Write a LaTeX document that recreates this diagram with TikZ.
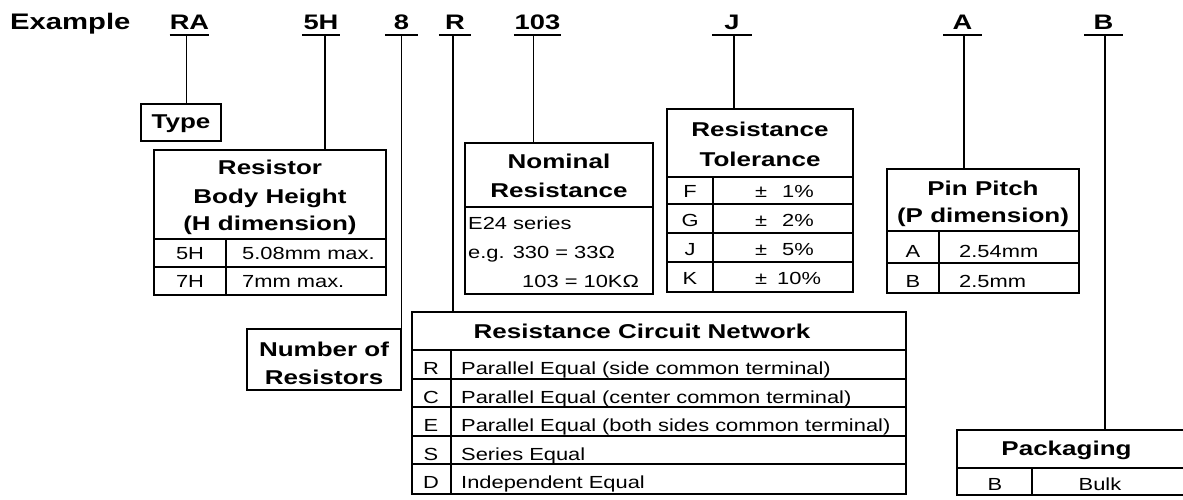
\documentclass[tikz,border=0pt]{standalone}
\usepackage{fontspec}
\setmainfont{Liberation Sans}[FakeStretch=1.25]
\newfontfamily\hbfont{Liberation Sans}[FakeStretch=1.3]
\tikzset{
  lab/.style={font=\hbfont\bfseries\fontsize{21}{25}\selectfont, anchor=base, inner xsep=0pt, inner ysep=0pt, text depth=5.5pt, minimum width=38pt},
  extext/.style={font=\hbfont\bfseries\fontsize{22.5}{26}\selectfont, anchor=base west, inner sep=0pt},
  uline/.style={line width=2.4pt},
  conn/.style={line width=1.1pt},
  obox/.style={draw, line width=2.2pt, rectangle, inner sep=0pt, outer sep=0pt},
  tbox/.style={draw, line width=1.5pt, rectangle, inner sep=0pt, outer sep=0pt},
  grid/.style={line width=1.2pt},
  hdr/.style={font=\hbfont\bfseries\fontsize{20}{27}\selectfont, anchor=base, inner sep=0pt},
  cell/.style={font=\fontsize{17.5}{21}\selectfont, anchor=base, inner sep=0pt},
  cellw/.style={font=\fontsize{17.5}{21}\selectfont, anchor=base west, inner sep=0pt},
}
\begin{document}
\begin{tikzpicture}[x=1pt,y=-1pt]
\fill[white] (0,0) rectangle (1183,500);
\clip (0,0) rectangle (1183,500);
% code labels
\node[extext] (ex) at (10,29.5) {Example};
\node[lab] (lRA) at (189.5,29.5) {RA};
\node[lab] (l5H) at (321,29.5) {5H};
\node[lab, minimum width=33pt] (l8) at (401.5,29.5) {8};
\node[lab, minimum width=32pt] (lR) at (455,29.5) {R};
\node[lab, minimum width=47pt] (l103) at (537.5,29.5) {103};
\node[lab, minimum width=40pt] (lJ) at (732,29.5) {J};
\node[lab] (lA) at (962.5,29.5) {A};
\node[lab] (lB) at (1103.5,29.5) {B};
\foreach \n in {lRA,l5H,l8,lR,l103,lJ,lA,lB}
  \draw[uline] (\n.south west) -- (\n.south east);
% boxes
\node[tbox, minimum width=80pt, minimum height=37pt] (type) at (181,122.5) {};
\node[obox, minimum width=232pt, minimum height=145pt] (bh) at (270,222.5) {};
\node[tbox, minimum width=154pt, minimum height=61pt] (nr) at (324,359.5) {};
\node[obox, minimum width=188pt, minimum height=151pt] (nom) at (559,218.5) {};
\node[obox, minimum width=186pt, minimum height=183pt] (tol) at (760,200.5) {};
\node[obox, minimum width=192pt, minimum height=124pt] (pp) at (983,231) {};
\node[obox, minimum width=494pt, minimum height=182pt] (rcn) at (659,403) {};
\node[obox, minimum width=238pt, minimum height=65pt] (pk) at (1076,462.5) {};
% connectors
\draw[conn] ([xshift=-3pt]lRA.south) -- ([xshift=-3pt]lRA.south |- type.north);
\draw[conn] ([xshift=4pt]l5H.south) -- ([xshift=4pt]l5H.south |- bh.north);
\draw[conn] (l8.south) -- (l8.south |- nr.north);
\draw[conn] ([xshift=-2pt]lR.south) -- ([xshift=-2pt]lR.south |- rcn.north);
\draw[conn] ([xshift=-4pt]l103.south) -- ([xshift=-4pt]l103.south |- nom.north);
\draw[conn] ([xshift=2pt]lJ.south) -- ([xshift=2pt]lJ.south |- tol.north);
\draw[conn] ([xshift=1.5pt]lA.south) -- ([xshift=1.5pt]lA.south |- pp.north);
\draw[conn] ([xshift=1.5pt]lB.south) -- ([xshift=1.5pt]lB.south |- pk.north);
% inner grid lines
\draw[grid] (154,239) -- (386,239) (154,267) -- (386,267) (226,239) -- (226,295);
\draw[grid] (465,207) -- (653,207);
\draw[grid] (667,177) -- (853,177) (667,204) -- (853,204) (667,233) -- (853,233) (667,262) -- (853,262) (713,177) -- (713,292);
\draw[grid] (887,231) -- (1079,231) (887,263) -- (1079,263) (939,231) -- (939,293);
\draw[grid] (412,350) -- (906,350) (412,379) -- (906,379) (412,407) -- (906,407) (412,436) -- (906,436) (412,464) -- (906,464) (451,350) -- (451,494);
\draw[grid] (957,468) -- (1195,468) (1032,468) -- (1032,495);
% type
\node[hdr] (typet) at (181,129) {Type};
% body height
\node[hdr] (bh1) at (270,175) {Resistor};
\node[hdr] (bh2) at (270,203) {Body Height};
\node[hdr] (bh3) at (270,230) {(H dimension)};
\node[cell] (bhc1) at (190,259) {5H};
\node[cellw] (bhv1) at (242,259) {5.08mm max.};
\node[cell] (bhc2) at (190,287) {7H};
\node[cellw] (bhv2) at (242,287) {7mm max.};
% number of resistors
\node[hdr] (nr1) at (324,356) {Number of};
\node[hdr] (nr2) at (324,384) {Resistors};
% nominal
\node[hdr] (nom1) at (559,168) {Nominal};
\node[hdr] (nom2) at (559,197) {Resistance};
\node[cellw] (nomv1) at (468,229) {E24 series};
\node[cellw] (nomv2) at (468,258) {e.g. 330 = 33Ω};
\node[cellw] (nomv3) at (522,287) {103 = 10KΩ};
% tolerance
\node[hdr] (tol1) at (760,137) {Resistance};
\node[hdr] (tol2) at (760,166) {Tolerance};
\node[cell] (tF) at (690,197) {F};
\node[cell] (tG) at (690,226) {G};
\node[cell] (tJ) at (690,255) {J};
\node[cell] (tK) at (690,284) {K};
\node[cellw] (pmF) at (755,197) {±};
\node[cellw] (pmG) at (755,226) {±};
\node[cellw] (pmJ) at (755,255) {±};
\node[cellw] (pmK) at (755,284) {±};
\node[cellw] (vF) at (782,197) {1\%};
\node[cellw] (vG) at (782,226) {2\%};
\node[cellw] (vJ) at (782,255) {5\%};
\node[cellw] (vK) at (777,284) {10\%};
% pin pitch
\node[hdr] (pp1) at (983,195) {Pin Pitch};
\node[hdr] (pp2) at (983,222) {(P dimension)};
\node[cell] (ppA) at (913,257) {A};
\node[cellw] (ppAv) at (959,257) {2.54mm};
\node[cell] (ppB) at (913,287) {B};
\node[cellw] (ppBv) at (959,287) {2.5mm};
% resistance circuit network
\node[hdr] (rcn1) at (642,338) {Resistance Circuit Network};
\node[cell] (rR) at (431,374) {R};
\node[cell] (rC) at (431,403) {C};
\node[cell] (rE) at (431,431) {E};
\node[cell] (rS) at (431,460) {S};
\node[cell] (rD) at (431,488) {D};
\node[cellw] (rRv) at (461,374) {Parallel Equal (side common terminal)};
\node[cellw] (rCv) at (461,403) {Parallel Equal (center common terminal)};
\node[cellw] (rEv) at (461,431) {Parallel Equal (both sides common terminal)};
\node[cellw] (rSv) at (461,460) {Series Equal};
\node[cellw] (rDv) at (461,488) {Independent Equal};
% packaging
\node[hdr] (pk1) at (1066.5,455) {Packaging};
\node[cell] (pkB) at (995,490) {B};
\node[cell] (pkBv) at (1100,490) {Bulk};
\end{tikzpicture}
\end{document}
